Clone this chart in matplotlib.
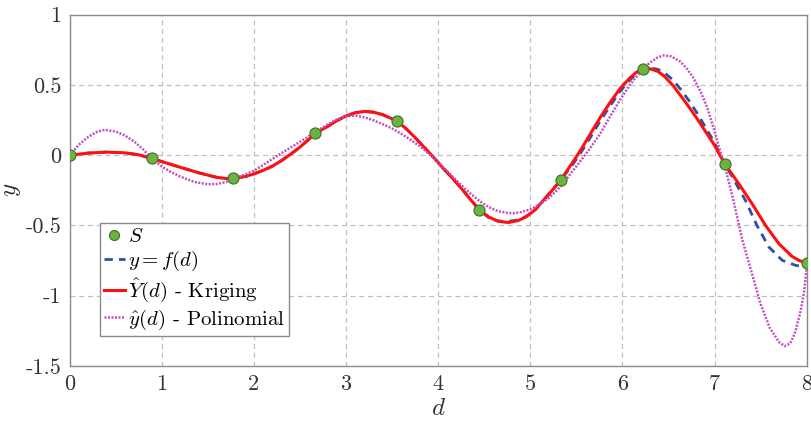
import matplotlib
matplotlib.use("Agg")
import matplotlib.pyplot as plt

plt.rcParams['font.family'] = 'serif'
plt.rcParams['font.serif'] = ['cmr10']
plt.rcParams['mathtext.fontset'] = 'cm'
plt.rcParams['axes.unicode_minus'] = False
plt.rcParams['axes.formatter.use_mathtext'] = True

# Sample points S
s_d = [0.0, 0.889, 1.778, 2.667, 3.556, 4.444, 5.333, 6.222, 7.111, 8.0]
s_y = [0.0, -0.023, -0.165, 0.155, 0.24, -0.387, -0.174, 0.613, -0.063, -0.767]

# Kriging curve
k_d = [0.0, 0.2, 0.4, 0.6, 0.75, 0.889, 1.0, 1.2, 1.4, 1.6, 1.7, 1.778, 1.9, 2.0, 2.1, 2.2,
       2.3, 2.4, 2.5, 2.6, 2.667, 2.8, 2.9, 3.0, 3.1, 3.2, 3.3, 3.4, 3.48, 3.556, 3.65, 3.75,
       3.85, 3.95, 4.05, 4.15, 4.25, 4.35, 4.444, 4.55, 4.65, 4.76, 4.87, 4.95, 5.05, 5.15,
       5.25, 5.333, 5.45, 5.55, 5.65, 5.76, 5.87, 5.975, 6.08, 6.15, 6.222, 6.3, 6.38, 6.45,
       6.55, 6.63, 6.72, 6.81, 6.9, 6.99, 7.111, 7.264, 7.408, 7.553, 7.698, 7.84, 7.92, 8.0]
k_y = [0.0, 0.015, 0.022, 0.017, 0.003, -0.023, -0.045, -0.086, -0.125, -0.158, -0.166, -0.165,
       -0.152, -0.133, -0.108, -0.078, -0.038, 0.008, 0.058, 0.115, 0.155, 0.205, 0.245, 0.28,
       0.302, 0.312, 0.306, 0.288, 0.265, 0.24, 0.19, 0.125, 0.055, -0.015, -0.09, -0.16,
       -0.235, -0.315, -0.387, -0.44, -0.47, -0.479, -0.465, -0.44, -0.39, -0.315, -0.24,
       -0.174, -0.06, 0.04, 0.15, 0.27, 0.38, 0.475, 0.55, 0.59, 0.613, 0.615, 0.598, 0.565,
       0.495, 0.425, 0.345, 0.26, 0.17, 0.08, -0.063, -0.204, -0.346, -0.5, -0.63, -0.72,
       -0.75, -0.767]

# True function f(d)
f_d = [0.0, 0.2, 0.4, 0.6, 0.75, 0.889, 1.0, 1.2, 1.4, 1.6, 1.7, 1.778, 1.9, 2.0, 2.1, 2.2,
       2.3, 2.4, 2.5, 2.6, 2.667, 2.8, 2.9, 3.0, 3.1, 3.2, 3.3, 3.4, 3.48, 3.556, 3.65, 3.75,
       3.85, 3.95, 4.05, 4.15, 4.25, 4.35, 4.444, 4.55, 4.65, 4.76, 4.87, 4.95, 5.05, 5.15,
       5.25, 5.333, 5.45, 5.55, 5.65, 5.76, 5.87, 5.975, 6.08, 6.15, 6.222, 6.3, 6.38, 6.45,
       6.55, 6.63, 6.72, 6.81, 6.9, 6.99, 7.111, 7.18, 7.336, 7.46, 7.59, 7.734, 7.88, 7.95, 8.0]
f_y = [0.0, 0.015, 0.022, 0.017, 0.003, -0.023, -0.045, -0.086, -0.125, -0.158, -0.166, -0.165,
       -0.152, -0.133, -0.108, -0.078, -0.038, 0.008, 0.058, 0.115, 0.155, 0.205, 0.245, 0.28,
       0.302, 0.312, 0.306, 0.288, 0.265, 0.24, 0.19, 0.125, 0.055, -0.015, -0.09, -0.16,
       -0.235, -0.315, -0.387, -0.445, -0.468, -0.472, -0.46, -0.437, -0.39, -0.315, -0.24,
       -0.174, -0.075, 0.02, 0.125, 0.245, 0.355, 0.455, 0.535, 0.58, 0.613, 0.62, 0.612, 0.59,
       0.535, 0.47, 0.39, 0.3, 0.2, 0.1, -0.063, -0.14, -0.323, -0.5, -0.654, -0.748, -0.784,
       -0.79, -0.775]

# Polynomial curve
p_d = [0.0, 0.1, 0.2, 0.3, 0.383, 0.5, 0.6, 0.7, 0.8, 0.889, 1.0, 1.1, 1.2, 1.35, 1.5, 1.6,
       1.7, 1.778, 1.9, 2.0, 2.1, 2.2, 2.3, 2.4, 2.5, 2.667, 2.8, 2.9, 3.0, 3.1, 3.2, 3.3, 3.4,
       3.5, 3.6, 3.7, 3.8, 3.9, 4.0, 4.1, 4.2, 4.3, 4.447, 4.55, 4.65, 4.75, 4.82, 4.9, 5.0,
       5.1, 5.2, 5.334, 5.45, 5.54, 5.65, 5.76, 5.87, 5.975, 6.08, 6.19, 6.3, 6.38, 6.446,
       6.53, 6.63, 6.7, 6.77, 6.85, 6.92, 7.0, 7.047, 7.115, 7.2, 7.3, 7.4, 7.5, 7.6, 7.7,
       7.76, 7.82, 7.87, 7.93, 7.97, 8.0]
p_y = [0.0, 0.075, 0.13, 0.168, 0.181, 0.168, 0.14, 0.098, 0.04, -0.023, -0.08, -0.12, -0.152,
       -0.19, -0.207, -0.205, -0.19, -0.168, -0.138, -0.11, -0.07, -0.027, 0.015, 0.055, 0.095,
       0.165, 0.22, 0.255, 0.277, 0.282, 0.27, 0.248, 0.22, 0.19, 0.152, 0.11, 0.064, 0.01,
       -0.05, -0.115, -0.18, -0.245, -0.325, -0.37, -0.398, -0.41, -0.413, -0.405, -0.385,
       -0.35, -0.305, -0.22, -0.12, -0.045, 0.05, 0.155, 0.28, 0.395, 0.5, 0.59, 0.66, 0.695,
       0.71, 0.703, 0.665, 0.615, 0.55, 0.45, 0.34, 0.17, 0.06, -0.087, -0.31, -0.6, -0.83,
       -1.06, -1.23, -1.33, -1.358, -1.34, -1.27, -1.12, -0.98, -0.8]

x_ticks = [0, 1, 2, 3, 4, 5, 6, 7, 8]
y_ticks = [-1.5, -1, -0.5, 0, 0.5, 1]
y_tick_labels = ['-1.5', '-1', '-0.5', '0', '0.5', '1']

fig = plt.figure(figsize=(8.12, 4.22), dpi=100)
ax = fig.add_axes([0.0858, 0.1327, 0.9077, 0.8325])

h_f, = ax.plot(f_d, f_y, linestyle=(0, (3, 2.2)), color='#2f4fa8', lw=2.0, zorder=2)
h_k, = ax.plot(k_d, k_y, '-', color='#ff1010', lw=2.2, zorder=3)
h_p, = ax.plot(p_d, p_y, linestyle=(0, (0.8, 0.6)), color='#c24fc2', lw=1.8, zorder=4)
h_s, = ax.plot(s_d, s_y, 'o', color='#6cb33f', markeredgecolor='#3f6e2a',
               markeredgewidth=0.8, markersize=8, linestyle='none', zorder=5)

ax.set_xlim(0, 8)
ax.set_ylim(-1.5, 1)
ax.set_xticks(x_ticks)
ax.set_xticklabels([str(t) for t in x_ticks])
ax.set_yticks(y_ticks)
ax.set_yticklabels(y_tick_labels)
ax.tick_params(axis='both', length=0, labelsize=16, colors='#333333', pad=6)
ax.grid(True, linestyle=(0, (4, 3)), color='#c0c0c0', lw=0.9)
ax.set_axisbelow(True)
for sp in ax.spines.values():
    sp.set_color('#8a8a8a')
    sp.set_linewidth(1.0)

ax.set_xlabel(r'$d$', fontsize=18, color='#333333', labelpad=3)
ax.set_ylabel(r'$y$', fontsize=18, color='#333333', labelpad=2)

leg = ax.legend([h_s, h_f, h_k, h_p],
                [r'$S$', r'$y = f(d)$', r'$\hat{Y}(d)$ - Kriging', r'$\hat{y}(d)$ - Polinomial'],
                loc='upper left', bbox_to_anchor=(0.041, 0.406), borderaxespad=0,
                fontsize=15, fancybox=False, framealpha=1, edgecolor='#8a8a8a',
                handlelength=1.0, handletextpad=0.15, borderpad=0.2, labelspacing=0.15,
                markerscale=0.9)
leg.get_frame().set_linewidth(1.0)

fig.savefig('out.png', dpi=100)
